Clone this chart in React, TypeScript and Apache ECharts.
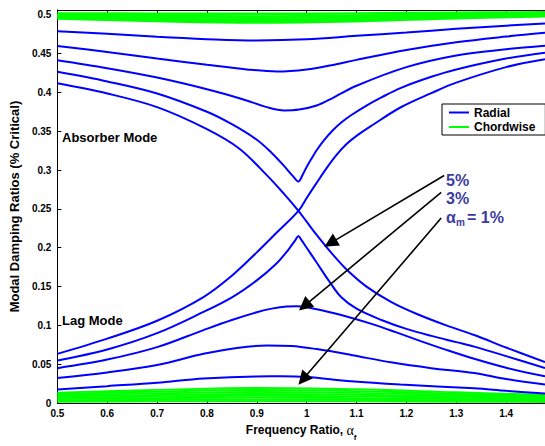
import React, { useEffect, useRef } from 'react';
import * as echarts from 'echarts';

// x positions shared by the chordwise (green) curves
const chordX = [0.5, 0.7, 0.9, 1.1, 1.3, 1.478];

// Chordwise modes near 0.5 (top band)
const chordTop1 = [0.5015, 0.5012, 0.501, 0.5015, 0.5025, 0.503];
const chordTop2 = [0.4998, 0.4985, 0.4975, 0.4985, 0.5005, 0.5015];
const chordTop3 = [0.498, 0.496, 0.4945, 0.4958, 0.4985, 0.5];
const chordTop4 = [0.4964, 0.4937, 0.4918, 0.4932, 0.4967, 0.4988];
const chordTop5 = [0.4952, 0.4918, 0.49, 0.4917, 0.4956, 0.498];

// Chordwise modes near 0 (bottom band)
const chordLow1 = [0.0135, 0.017, 0.0195, 0.0178, 0.014, 0.0105];
const chordLow2 = [0.0118, 0.0148, 0.0168, 0.0154, 0.0122, 0.0092];
const chordLow3 = [0.0101, 0.0126, 0.0143, 0.0131, 0.0104, 0.0079];
const chordLow4 = [0.0085, 0.0105, 0.0118, 0.0108, 0.0087, 0.0066];
const chordLow5 = [0.0068, 0.0084, 0.0094, 0.0086, 0.007, 0.0053];
const chordLow6 = [0.0051, 0.0063, 0.007, 0.0064, 0.0052, 0.004];
const chordLow7 = [0.0034, 0.0042, 0.0047, 0.0043, 0.0035, 0.0027];
const chordLow8 = [0.0018, 0.0022, 0.0024, 0.0022, 0.0018, 0.0014];

// Radial modes (blue) [frequency ratio, damping]
const absorber1 = [[0.5,0.4787],[0.6,0.4755],[0.7,0.4715],[0.8,0.4685],[0.9,0.4668],[1.0,0.4682],[1.1,0.4727],[1.2,0.477],[1.3,0.4818],[1.4,0.4858],[1.478,0.4885]];
const absorber2 = [[0.5,0.4596],[0.6,0.452],[0.7,0.4435],[0.8,0.4355],[0.88,0.4295],[0.94,0.4269],[1.0,0.4295],[1.05,0.435],[1.1,0.4418],[1.2,0.4545],[1.3,0.4645],[1.4,0.4718],[1.478,0.4766]];
const absorber3 = [[0.5,0.4413],[0.6,0.431],[0.7,0.419],[0.8,0.404],[0.87,0.3915],[0.92,0.381],[0.955,0.3767],[0.985,0.3778],[1.02,0.383],[1.05,0.392],[1.1,0.4085],[1.2,0.4325],[1.3,0.4475],[1.4,0.4555],[1.478,0.46]];
const absorber4 = [[0.5,0.4264],[0.6,0.414],[0.7,0.3985],[0.8,0.375],[0.85,0.359],[0.9,0.339],[0.93,0.322],[0.955,0.305],[0.972,0.2925],[0.9835,0.2853],[0.992,0.294],[1.0,0.304],[1.01,0.315],[1.02,0.3255],[1.035,0.3385],[1.053,0.3515],[1.07,0.3615],[1.089,0.3705],[1.12,0.383],[1.15,0.3935],[1.188,0.4055],[1.25,0.42],[1.3,0.4295],[1.4,0.4435],[1.478,0.4511]];
const absorber5 = [[0.5,0.4116],[0.6,0.3985],[0.7,0.381],[0.798,0.3533],[0.8645,0.3278],[0.92,0.2934],[0.955,0.269],[0.9835,0.2475],[1.0,0.2335],[1.02,0.2165],[1.05,0.193],[1.08,0.172],[1.12,0.15],[1.17,0.13],[1.22,0.115],[1.28,0.1],[1.336,0.0876],[1.4,0.0715],[1.478,0.0527]];
const lag5 = [[0.5,0.0634],[0.6,0.083],[0.7,0.106],[0.793,0.1365],[0.85,0.164],[0.9,0.194],[0.94,0.2195],[0.9835,0.2475],[1.0,0.264],[1.02,0.2835],[1.04,0.3025],[1.06,0.3195],[1.08,0.3335],[1.1,0.344],[1.13,0.357],[1.188,0.3805],[1.25,0.399],[1.3,0.4125],[1.4,0.4325],[1.478,0.4426]];
const lag4 = [[0.5,0.0548],[0.6,0.069],[0.7,0.09],[0.793,0.1173],[0.851,0.1365],[0.9,0.158],[0.94,0.18],[0.965,0.199],[0.978,0.2105],[0.9835,0.2152],[0.989,0.2105],[1.0,0.2],[1.02,0.181],[1.045,0.157],[1.069,0.1365],[1.1,0.1215],[1.15,0.107],[1.2,0.0955],[1.25,0.0865],[1.3,0.0785],[1.336,0.0727],[1.4,0.0605],[1.478,0.045]];
const lag3 = [[0.5,0.045],[0.6,0.056],[0.7,0.072],[0.793,0.094],[0.85,0.107],[0.9,0.117],[0.93,0.1216],[0.96,0.1243],[0.98,0.1246],[1.0,0.1235],[1.03,0.1195],[1.08,0.1115],[1.13,0.102],[1.18,0.091],[1.23,0.0795],[1.28,0.0685],[1.336,0.057],[1.4,0.0455],[1.478,0.0344]];
const lag2 = [[0.5,0.0323],[0.6,0.0395],[0.7,0.049],[0.793,0.0634],[0.86,0.071],[0.92,0.0742],[0.97,0.0735],[1.02,0.0695],[1.089,0.062],[1.169,0.0525],[1.25,0.045],[1.336,0.0387],[1.4,0.031],[1.478,0.0238]];
const lag1 = [[0.5,0.0175],[0.6,0.0218],[0.7,0.0262],[0.793,0.0318],[0.9,0.0344],[0.95,0.0345],[1.0,0.0335],[1.089,0.028],[1.188,0.0238],[1.336,0.019],[1.4,0.0158],[1.478,0.0124]];

// annotation arrows: [start, arrow-head centre]
const arrow5 = [[1.2758, 0.293], [1.0476, 0.2059]];
const arrow3 = [[1.2698, 0.2713], [0.9954, 0.1251]];
const arrow1 = [[1.2698, 0.2382], [0.9926, 0.0306]];

const radialCurves = [absorber1, absorber2, absorber3, absorber4, absorber5, lag5, lag4, lag3, lag2, lag1];
const chordTopCurves = [chordTop1, chordTop2, chordTop3, chordTop4, chordTop5];
const chordLowCurves = [chordLow1, chordLow2, chordLow3, chordLow4, chordLow5, chordLow6, chordLow7, chordLow8];

const FONT = '"Liberation Sans", Arial, Helvetica, sans-serif';
const BLUE = '#0000ff';
const GREEN = '#00ff00';
const NOTE = '#3b3ba0';

export default function App() {
  const ref = useRef<HTMLDivElement>(null);

  useEffect(() => {
    if (!ref.current) return;
    const chart = echarts.init(ref.current, undefined, { renderer: 'svg' });

    const pair = (ys: number[]) => chordX.map((x, i) => [x, ys[i]]);

    const series: any[] = [];
    chordTopCurves.forEach((ys) =>
      series.push({
        type: 'line', name: 'Chordwise', data: pair(ys), smooth: 0.4, symbol: 'none', silent: true,
        lineStyle: { color: GREEN, width: 2.6 }, itemStyle: { color: GREEN }, z: 2,
      })
    );
    chordLowCurves.forEach((ys) =>
      series.push({
        type: 'line', name: 'Chordwise', data: pair(ys), smooth: 0.4, symbol: 'none', silent: true,
        lineStyle: { color: GREEN, width: 1.9 }, itemStyle: { color: GREEN }, z: 2,
      })
    );
    radialCurves.forEach((d) =>
      series.push({
        type: 'line', name: 'Radial', data: d, smooth: 0.35, symbol: 'none', silent: true,
        lineStyle: { color: BLUE, width: 2 }, itemStyle: { color: BLUE }, z: 3,
      })
    );
    series.push({
      type: 'lines', coordinateSystem: 'cartesian2d', silent: true, z: 5,
      symbol: ['none', 'triangle'], symbolSize: 14,
      lineStyle: { color: '#000', width: 1.6, opacity: 1, curveness: 0 },
      data: [arrow5, arrow3, arrow1].map((c) => ({ coords: c })),
    });

    const tickLabel = { color: '#000', fontFamily: FONT, fontWeight: 'bold', fontSize: 10 };

    chart.setOption({
      animation: false,
      backgroundColor: '#fff',
      grid: { left: 53, top: 10, width: 493, height: 397, containLabel: false },
      legend: {
        data: ['Radial', 'Chordwise'],
        orient: 'vertical', left: 442, top: 104,
        icon: 'rect', itemWidth: 20, itemHeight: 2, itemGap: 0.5,
        padding: [1.5, 10, 1, 7],
        borderColor: '#000', borderWidth: 1, backgroundColor: '#fff',
        textStyle: { color: '#000', fontFamily: FONT, fontWeight: 'bold', fontSize: 12, lineHeight: 14 },
        selectedMode: false,
      },
      xAxis: [
        {
          type: 'value', min: 0.5, max: 1.478, interval: 0.1, position: 'bottom',
          axisLine: { show: true, lineStyle: { color: '#000', width: 1 } },
          axisTick: { show: true, inside: true, length: 4, lineStyle: { color: '#000' } },
          axisLabel: { ...tickLabel, margin: 5, showMaxLabel: false },
          splitLine: { show: false },
          name: '{b|Frequency Ratio, }{a|α}{s|f}',
          nameLocation: 'middle', nameGap: 16,
          nameTextStyle: {
            color: '#000', fontFamily: FONT, fontWeight: 'bold', fontSize: 12,
            rich: {
              b: { fontFamily: FONT, fontWeight: 'bold', fontSize: 12, lineHeight: 16, color: '#000' },
              a: { fontFamily: '"Liberation Serif", "DejaVu Serif", serif', fontWeight: 'normal', fontSize: 14, lineHeight: 16, color: '#000' },
              s: { fontFamily: FONT, fontWeight: 'bold', fontSize: 8, lineHeight: 8, verticalAlign: 'bottom', color: '#000', padding: [0, 0, -3, 0] },
            },
          },
        },
        {
          type: 'value', min: 0.5, max: 1.478, interval: 0.1, position: 'top',
          axisLine: { show: true, lineStyle: { color: '#000', width: 1 } },
          axisTick: { show: true, inside: true, length: 4, lineStyle: { color: '#000' } },
          axisLabel: { show: false },
          splitLine: { show: false },
        },
      ],
      yAxis: [
        {
          type: 'value', min: 0, max: 0.506, interval: 0.05, position: 'left',
          axisLine: { show: true, lineStyle: { color: '#000', width: 1 } },
          axisTick: { show: true, inside: true, length: 4, lineStyle: { color: '#000' } },
          axisLabel: { ...tickLabel, margin: 6, showMaxLabel: false },
          splitLine: { show: false },
          name: 'Modal Damping Ratios (% Critical)',
          nameLocation: 'middle', nameGap: 29,
          nameTextStyle: { color: '#000', fontFamily: FONT, fontWeight: 'bold', fontSize: 13 },
        },
      ],
      series,
      graphic: [
        { type: 'text', x: 62, y: 137, z: 10, style: { text: 'Absorber Mode', fill: '#000', font: `bold 13px ${FONT}`, verticalAlign: 'middle' } },
        { type: 'text', x: 62, y: 320, z: 10, style: { text: 'Lag Mode', fill: '#000', font: `bold 13px ${FONT}`, verticalAlign: 'middle' } },
        { type: 'text', x: 446, y: 180, z: 10, style: { text: '5%', fill: NOTE, font: `bold 16px ${FONT}`, verticalAlign: 'middle' } },
        { type: 'text', x: 446, y: 198, z: 10, style: { text: '3%', fill: NOTE, font: `bold 16px ${FONT}`, verticalAlign: 'middle' } },
        { type: 'text', x: 446, y: 217, z: 10, style: { text: 'α', fill: NOTE, font: `bold 16px ${FONT}`, verticalAlign: 'middle' } },
        { type: 'text', x: 456, y: 222, z: 10, style: { text: 'm', fill: NOTE, font: `bold 10px ${FONT}`, verticalAlign: 'middle' } },
        { type: 'text', x: 467, y: 217, z: 10, style: { text: '= 1%', fill: NOTE, font: `bold 16px ${FONT}`, verticalAlign: 'middle' } },
      ],
    });

    return () => chart.dispose();
  }, []);

  return <div ref={ref} style={{ position: 'absolute', left: 0, top: 0, width: 545, height: 446 }} />;
}
